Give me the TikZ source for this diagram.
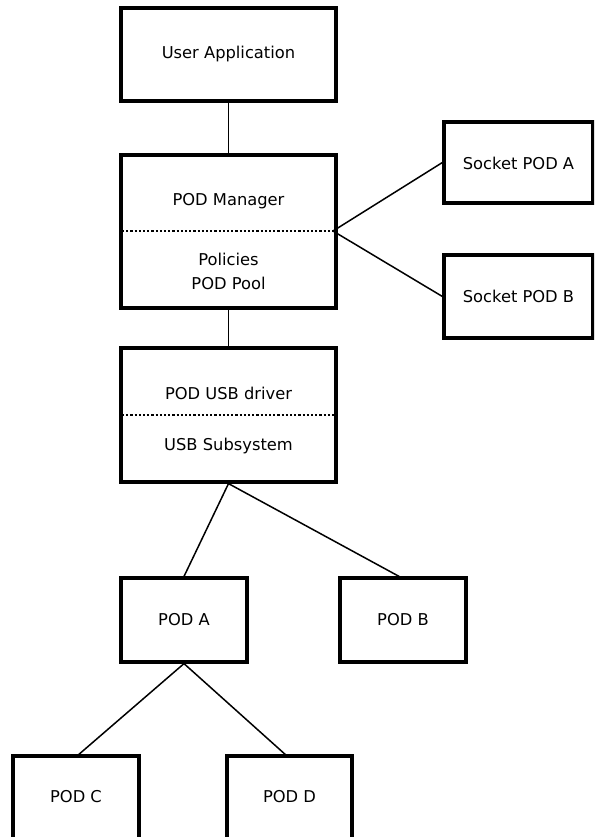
\documentclass[tikz,border=0pt]{standalone}
\usepackage{fontspec}
\setmainfont{DejaVu Sans}
\begin{document}
\begin{tikzpicture}[x=1pt,y=-1pt,
  box/.style={draw=black,line width=3.2pt,rectangle,inner sep=0pt,fill=white},
  lbl/.style={inner sep=0pt,font=\fontsize{16.3}{24}\selectfont,align=center},
  conn/.style={draw=black,line width=1.5pt},
  sep/.style={draw=black,line width=1.4pt,dash pattern=on 2.2pt off 2pt}]
\clip (0,0) rectangle (594,837);
\fill[white] (0,0) rectangle (594,837);
% boxes
\node[box,minimum width=215pt,minimum height=93pt] (ua) at (228.5,54.5) {};
\node[box,minimum width=215pt,minimum height=153pt] (pm) at (228.5,231.5) {};
\node[box,minimum width=149pt,minimum height=81pt] (sa) at (518.5,162.5) {};
\node[box,minimum width=149pt,minimum height=83pt] (sb) at (518.5,296.5) {};
\node[box,minimum width=215pt,minimum height=134pt] (usb) at (228.5,415) {};
\node[box,minimum width=126pt,minimum height=84pt] (pa) at (184,620) {};
\node[box,minimum width=126pt,minimum height=84pt] (pb) at (403,620) {};
\node[box,minimum width=126pt,minimum height=84pt] (pc) at (76,798) {};
\node[box,minimum width=125pt,minimum height=84pt] (pd) at (289.5,798) {};
% labels
\node[lbl] (tua) at (ua.center) {User Application};
\node[lbl] (tpm) at (228.5,201) {POD Manager};
\node[lbl] (tpol) at (228.5,259) {Policies};
\node[lbl] (tpool) at (228.5,283) {POD Pool};
\node[lbl] (tsa) at (518.5,163) {Socket POD A};
\node[lbl] (tsb) at (518.5,296) {Socket POD B};
\node[lbl] (tdrv) at (228.5,393) {POD USB driver};
\node[lbl] (tsub) at (228.5,446) {USB Subsystem};
\node[lbl] (tpa) at (pa.center) {POD A};
\node[lbl] (tpb) at (pb.center) {POD B};
\node[lbl] (tpc) at (76,797) {POD C};
\node[lbl] (tpd) at (289.5,797) {POD D};
% separators
\coordinate (pmL) at (122,231);
\coordinate (pmR) at (333,231);
\coordinate (usbL) at (122,415);
\coordinate (usbR) at (335,415);
\draw[sep] (pmL) -- (pmR);
\draw[sep] (usbL) -- (usbR);
% connectors
\draw[conn] (ua.south) -- (pm.north);
\draw[conn] (pm.south) -- (usb.north);
\draw[conn] (pmR) -- (sa.west);
\draw[conn] (pmR) -- (sb.west);
\coordinate (pbT) at (402,578);
\draw[conn] (usb.south) -- (pa.north);
\draw[conn] (usb.south) -- (pbT);
\coordinate (pcT) at (77,756);
\coordinate (pdT) at (287,756);
\draw[conn] (pa.south) -- (pcT);
\draw[conn] (pa.south) -- (pdT);
\end{tikzpicture}
\end{document}
